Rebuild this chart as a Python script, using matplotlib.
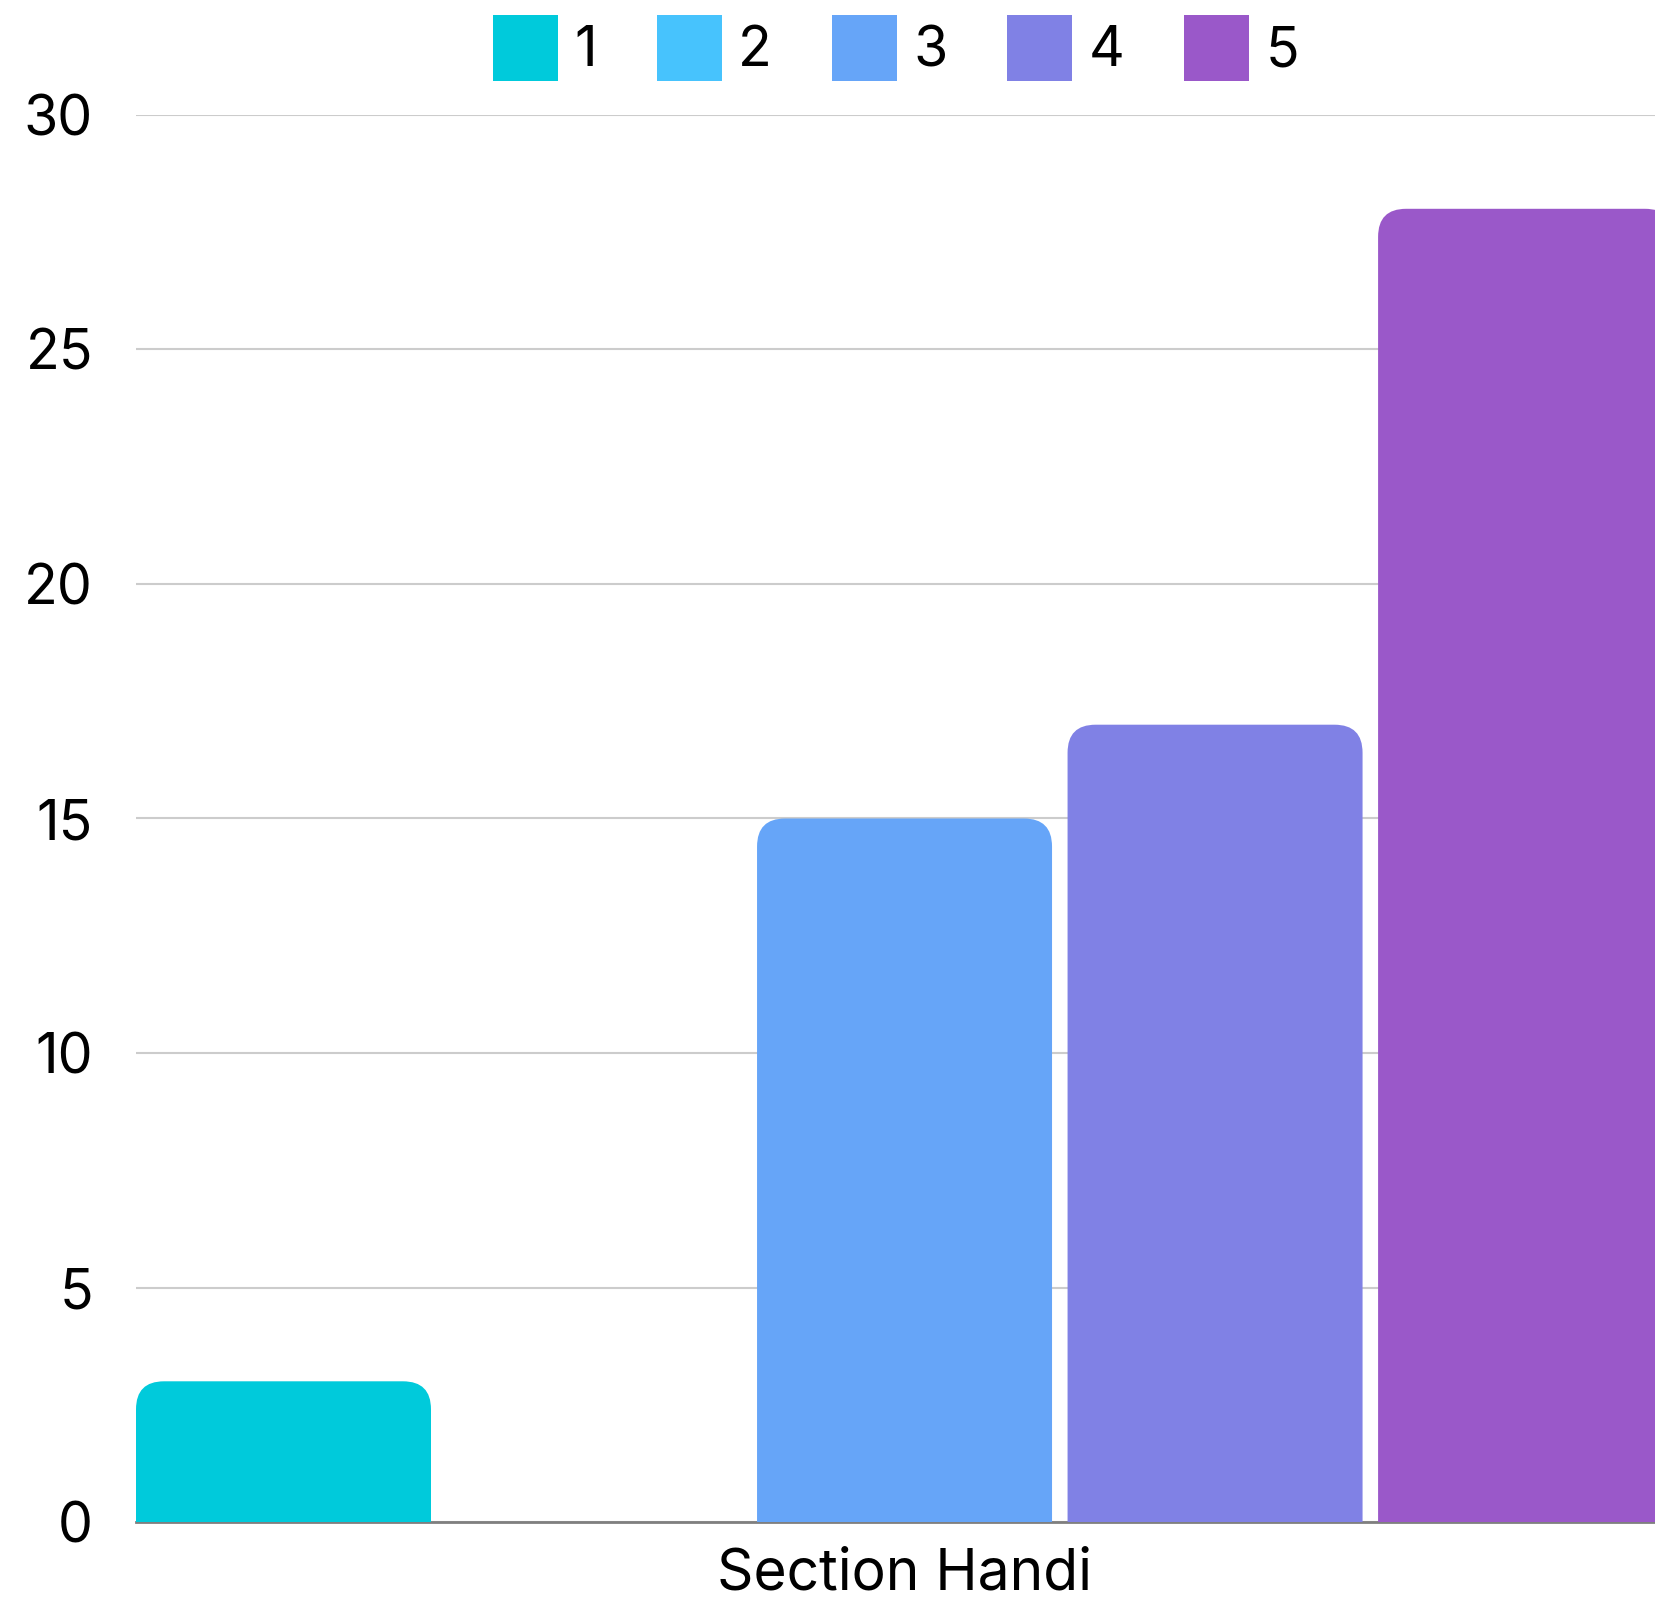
import matplotlib
matplotlib.use('Agg')
import matplotlib.pyplot as plt
from matplotlib.patches import FancyBboxPatch, Patch

# data
series = ['1', '2', '3', '4', '5']
values = [3, 0, 15, 17, 28]
colors = ['#00CADB', '#47C3FD', '#66A5F8', '#8081E5', '#9A58C9']
category = 'Section Handi'

plt.rcParams['font.family'] = ['Inter', 'DejaVu Sans']

W, H = 1656, 1601
fig = plt.figure(figsize=(W / 100, H / 100), dpi=100)
ax = fig.add_axes([136 / W, 79 / H, 1 - 136 / W, 1407 / H])

step = 1.0
width = 0.95
offsets = [(i - 2) * step for i in range(len(values))]
bars = ax.bar(offsets, values, width=width, color=colors, zorder=3)

ax.set_xlim(-2.475, 2.42)
ax.set_ylim(0, 30)

# swap plain rectangles for ones with rounded top corners
px_x = (W - 136) / (2.42 + 2.475)
px_y = 1407 / 30
r_px = 28
for b in bars:
    b.set_visible(False)
    h = b.get_height()
    if h <= 0:
        continue
    p = FancyBboxPatch((b.get_x(), -2), b.get_width(), h + 2,
                       boxstyle='round,pad=0,rounding_size=%f' % (r_px / px_x),
                       mutation_aspect=px_x / px_y,
                       facecolor=b.get_facecolor(), edgecolor='none', zorder=3)
    ax.add_patch(p)

ax.set_yticks([0, 5, 10, 15, 20, 25, 30])
ax.yaxis.grid(True, color='#cccccc', linewidth=1.5, zorder=0)
ax.tick_params(axis='y', length=0, pad=31, labelsize=40)
ax.set_xticks([0])
ax.set_xticklabels([category])
ax.tick_params(axis='x', length=0, pad=18, labelsize=41)
for s in ['top', 'right', 'left']:
    ax.spines[s].set_visible(False)
ax.spines['bottom'].set_color('#7f7f7f')
ax.spines['bottom'].set_linewidth(2)
ax.spines['bottom'].set_zorder(2)

handles = [Patch(facecolor=c, edgecolor='none') for c in colors]
fig.legend(handles, series, loc='center', bbox_to_anchor=(896 / W, 1 - 48 / H),
           ncol=5, frameon=False, fontsize=40, handlelength=1.17, handleheight=1.45,
           handletextpad=0.3, columnspacing=1.07)

fig.savefig('out.png', dpi=100)
